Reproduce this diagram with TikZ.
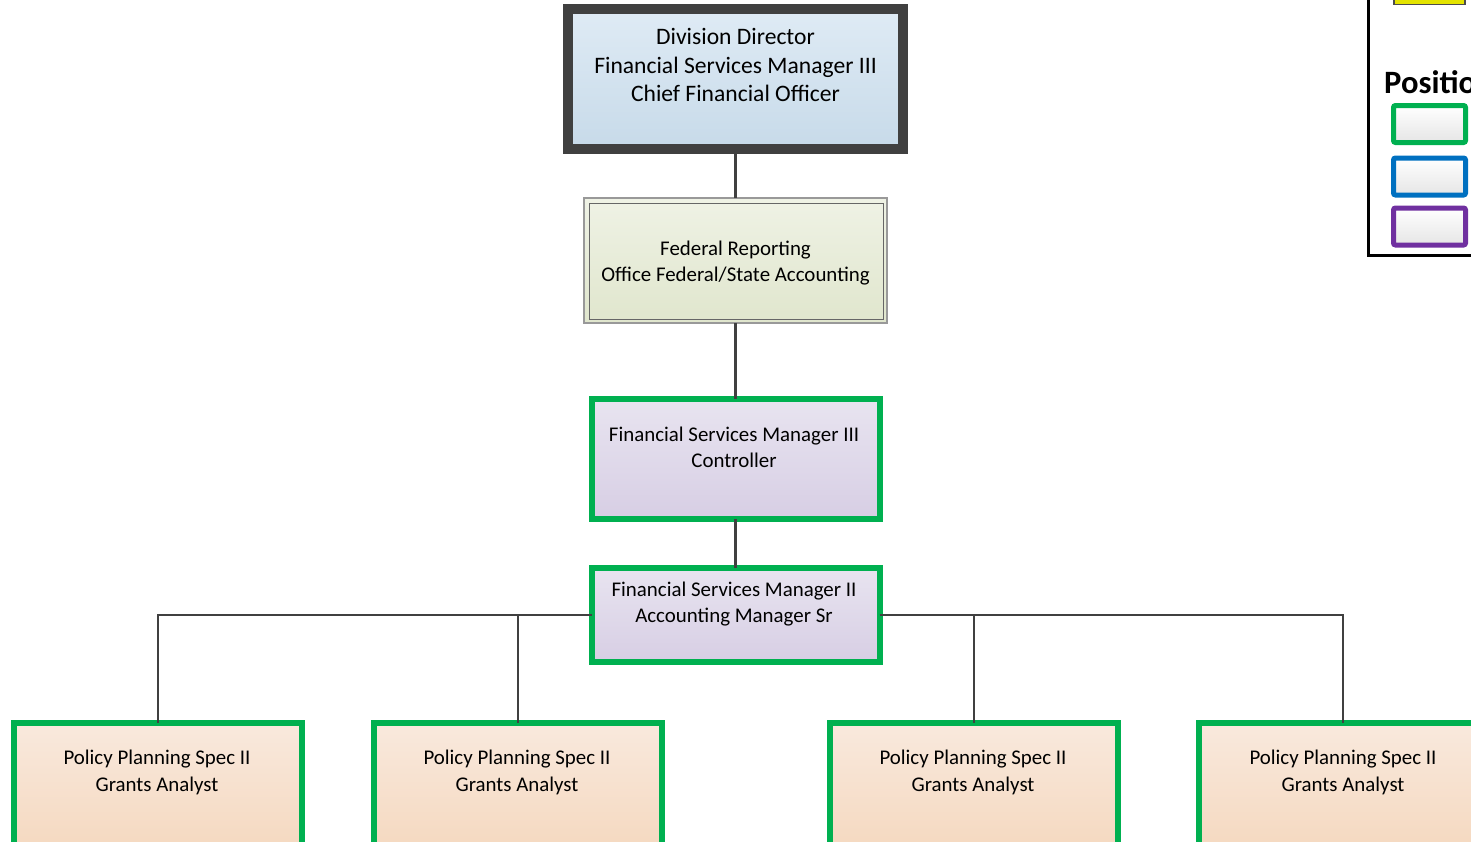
\documentclass[tikz,border=0pt]{standalone}
\usepackage{fontspec}
\setmainfont{Carlito}
\definecolor{bordergray}{HTML}{404040}
\definecolor{linegray}{HTML}{404040}
\definecolor{posgreen}{HTML}{00B050}
\definecolor{posblue}{HTML}{0070C0}
\definecolor{pospurple}{HTML}{7030A0}
\definecolor{blueA}{HTML}{DFEBF5}
\definecolor{blueB}{HTML}{C7DAE9}
\definecolor{greenA}{HTML}{EFF2E5}
\definecolor{greenB}{HTML}{E0E6CD}
\definecolor{lavA}{HTML}{E8E4F0}
\definecolor{lavB}{HTML}{D7CEE4}
\definecolor{peachA}{HTML}{F9E9DD}
\definecolor{peachB}{HTML}{F4D6BB}
\definecolor{legyellow}{HTML}{E3E300}
\tikzset{
  conn/.style={draw=linegray, line width=2.9pt},
  boxbase/.style={rectangle, inner sep=0pt, outer sep=0pt},
  topbox/.style={boxbase, draw=bordergray, line width=10pt, top color=blueA, bottom color=blueB,
    minimum width=335pt, minimum height=140pt},
  fedbox/.style={boxbase, draw=gray!80, line width=1.4pt, top color=greenA, bottom color=greenB,
    minimum width=303pt, minimum height=125pt},
  mgrbox/.style={boxbase, draw=posgreen, line width=6pt, top color=lavA, bottom color=lavB,
    minimum width=288pt},
  grantbox/.style={boxbase, draw=posgreen, line width=6pt, top color=peachA, bottom color=peachB,
    minimum width=288pt, minimum height=147pt},
  legbox/.style={boxbase, line width=5pt, rounded corners=2pt, top color=white, bottom color=black!10,
    minimum width=72pt, minimum height=37pt},
  txt/.style={align=center, font=\fontsize{20.9}{26.6}\selectfont, text=black},
  txtbig/.style={align=center, font=\fontsize{23.6}{28.8}\selectfont, text=black},
}
\begin{document}
\begin{tikzpicture}[x=1pt, y=-1pt]
\useasboundingbox (0,0) rectangle (1471,841);
\clip (0,0) rectangle (1471,841);
% boxes
\node[topbox] (dir) at (735.5,79) {};
\node[txtbig] (dirt) at (735.5,65) {Division Director\\Financial Services Manager III\\Chief Financial Officer};
\node[fedbox] (fed) at (735.5,260.5) {};
\draw[draw=black!60, line width=0.9pt] ([shift={(5,5)}]fed.north west) rectangle ([shift={(-4,-4)}]fed.south east);
\node[txt] (fedt) at (735.5,263) {Federal Reporting\\Office Federal/State Accounting};
\node[mgrbox, minimum height=120pt] (ctl) at (735.5,459) {};
\node[txt] (ctlt) at (734,447.5) {Financial Services Manager III\\Controller};
\node[mgrbox, minimum height=94pt] (acc) at (735.5,615) {};
\node[txt] (acct) at (734,604) {Financial Services Manager II\\Accounting Manager Sr};
\node[grantbox] (g1) at (158,796.5) {};
\node[grantbox] (g2) at (518,796.5) {};
\node[grantbox] (g3) at (974,796.5) {};
\node[grantbox] (g4) at (1343,796.5) {};
\node[txt] (g1t) at (157,772.5) {Policy Planning Spec II\\Grants Analyst};
\node[txt] (g2t) at (517,772.5) {Policy Planning Spec II\\Grants Analyst};
\node[txt] (g3t) at (973,772.5) {Policy Planning Spec II\\Grants Analyst};
\node[txt] (g4t) at (1343,772.5) {Policy Planning Spec II\\Grants Analyst};
% connectors
\draw[conn] (dir.south) -- (fed.north);
\draw[conn] (fed.south) -- (ctl.north);
\draw[conn] (ctl.south) -- (acc.north);
\draw[conn] (acc.west) -| (g1.north);
\draw[conn] (acc.west) -| (g2.north);
\draw[conn] (acc.east) -| (g3.north);
\draw[conn] (acc.east) -| (g4.north);
% legend
\coordinate (lgtop) at (1368,-20);
\coordinate (lgcorner) at (1368,255);
\coordinate (lgright) at (1500,255);
\draw[line width=3pt, black] (lgtop) -- (lgcorner) -- (lgright);
\node[boxbase, draw=black!70, line width=1.5pt, fill=legyellow, minimum width=71pt, minimum height=30pt] (ly) at (1429.5,-10.5) {};
\node[anchor=base west, font=\fontsize{32.6}{36}\selectfont\bfseries, inner sep=0pt] (lpos) at (1384,93) {Positio};
\node[legbox, draw=posgreen] (lg) at (1429.5,124) {};
\node[legbox, draw=posblue] (lb) at (1429.5,176.5) {};
\node[legbox, draw=pospurple] (lp) at (1429.5,226.5) {};
\end{tikzpicture}
\end{document}
